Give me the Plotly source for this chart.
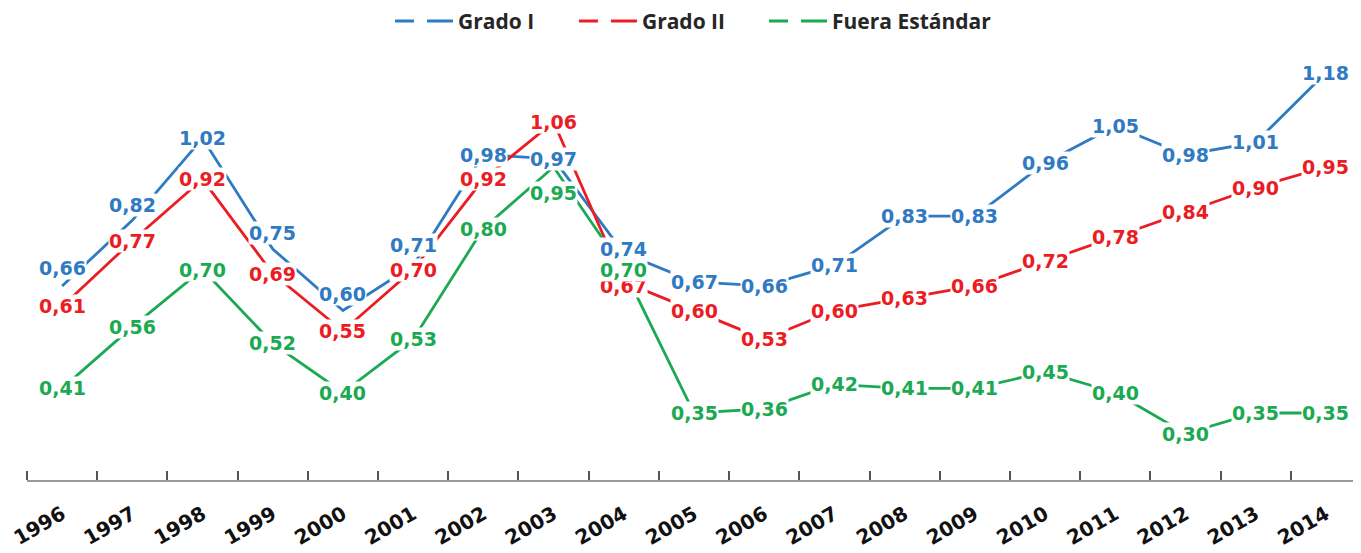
import plotly.graph_objects as go

# ---- data ----
years = [str(y) for y in range(1996, 2015)]
grado_i = [0.66, 0.82, 1.02, 0.75, 0.60, 0.71, 0.98, 0.97, 0.74, 0.67,
           0.66, 0.71, 0.83, 0.83, 0.96, 1.05, 0.98, 1.01, 1.18]
grado_ii = [0.61, 0.77, 0.92, 0.69, 0.55, 0.70, 0.92, 1.06, 0.67, 0.60,
            0.53, 0.60, 0.63, 0.66, 0.72, 0.78, 0.84, 0.90, 0.95]
fuera_estandar = [0.41, 0.56, 0.70, 0.52, 0.40, 0.53, 0.80, 0.95, 0.70, 0.35,
                  0.36, 0.42, 0.41, 0.41, 0.45, 0.40, 0.30, 0.35, 0.35]
series_names = ["Grado I", "Grado II", "Fuera Estándar"]

# ---- styles ----
colors = {"Grado I": "#2F7AC2", "Grado II": "#EC1C24", "Fuera Estándar": "#1BAA52"}
# vertical pixel offsets of a few data labels (label placement, not data)
label_shift = {"Grado I": {0: 18, 1: 15, 3: 16, 4: 17, 5: 20, 8: 4},
               "Grado II": {8: -4},
               "Fuera Estándar": {7: -26}}
# labels drawn last (on top of the others)
on_top = {("Fuera Estándar", 8)}
legend_ids = {"Grado I": "legend", "Grado II": "legend2", "Fuera Estándar": "legend3"}
legend_x = {"legend": 0.2721, "legend2": 0.4100, "legend3": 0.5525}

series = {"Grado I": grado_i, "Grado II": grado_ii, "Fuera Estándar": fuera_estandar}
xpos = list(range(len(years)))

fig = go.Figure()
for name in series_names:
    fig.add_trace(go.Scatter(
        x=xpos, y=series[name], mode="lines", name=name, showlegend=False,
        line=dict(color=colors[name], width=2.8), hoverinfo="skip"))

# legend-only entries (dashed symbol)
for name in series_names:
    fig.add_trace(go.Scatter(
        x=[None], y=[None], mode="lines", name="<b>%s</b>" % name, showlegend=True,
        legend=legend_ids[name],
        line=dict(color=colors[name], width=2.8, dash="19px,13px,60px")))

label_items = []
for name in ["Fuera Estándar", "Grado II", "Grado I"]:
    for i, v in enumerate(series[name]):
        label_items.append((name, i, v))
label_items.sort(key=lambda t: (t[0], t[1]) in on_top)

for name, i, v in label_items:
    fig.add_annotation(
        x=xpos[i], y=v, xref="x", yref="y",
        text="<b>" + f"{v:.2f}".replace(".", ",") + "</b>",
        showarrow=False, bgcolor="white", borderpad=0,
        yshift=label_shift[name].get(i, 0),
        font=dict(family="DejaVu Sans", size=19, color=colors[name]))

leg_common = dict(orientation="h", xanchor="left", y=1.092, yanchor="middle",
                  font=dict(family="Open Sans", size=21, color="#262626"),
                  itemwidth=58, bgcolor="rgba(0,0,0,0)")

fig.update_layout(
    width=1353, height=545,
    margin=dict(l=19, r=0, t=52, b=73, autoexpand=False),
    paper_bgcolor="white", plot_bgcolor="white",
    legend=dict(x=legend_x["legend"], **leg_common),
    legend2=dict(x=legend_x["legend2"], **leg_common),
    legend3=dict(x=legend_x["legend3"], **leg_common),
    xaxis=dict(range=[-0.5, 18.5], tickmode="array", tickvals=xpos,
               ticktext=["<b>%s</b>" % y for y in years],
               ticks="", automargin=False, ticklabeloverflow="allow",
               minor=dict(tick0=-0.5, dtick=1, ticks="inside", ticklen=9, tickwidth=1.5,
                          tickcolor="#555555", showgrid=False),
               showline=True, linecolor="#9A9A9A", linewidth=2,
               showgrid=False, zeroline=False, tickangle=-30,
               ticklabelshift=0, ticklabelstandoff=13,
               tickfont=dict(family="DejaVu Sans", size=20, color="#111111")),
    yaxis=dict(range=[0.1866, 1.211], visible=False, showgrid=False, zeroline=False,
               automargin=False),
)

fig.write_html("out.html")
